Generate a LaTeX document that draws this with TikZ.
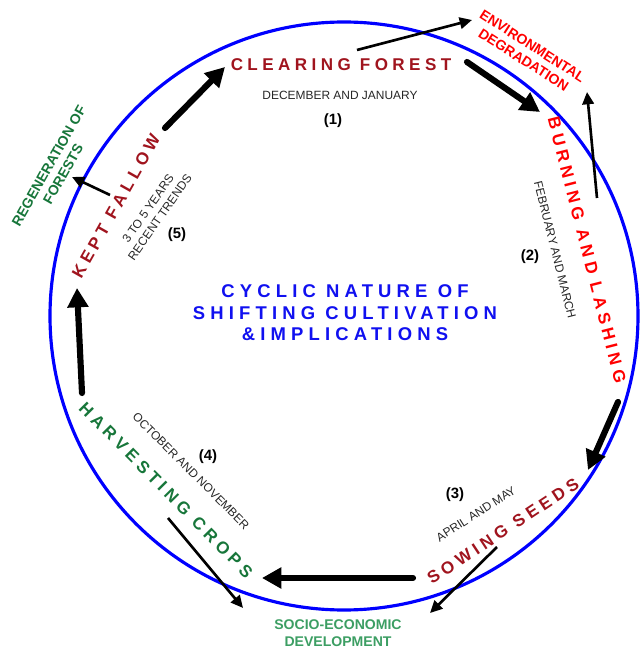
\documentclass[tikz,border=0pt]{standalone}
\usepackage{fontspec}
\setmainfont{Liberation Sans}
\newfontfamily\trackfont[LetterSpace=26]{Liberation Sans}
\newfontfamily\titlefont[LetterSpace=28]{Liberation Sans}
\usetikzlibrary{arrows.meta}
\definecolor{darkred}{HTML}{A0141E}
\definecolor{leafgreen}{HTML}{17763A}
\definecolor{palegreen}{HTML}{3C9E63}
\definecolor{titleblue}{HTML}{1010F0}
\tikzset{
  stage/.style={inner sep=0pt, font=\fontsize{9.7}{11}\trackfont\bfseries},
  month/.style={inner sep=0pt, text=black!85, align=center, font=\fontsize{6.8}{8.3}\selectfont},
  stepnum/.style={inner sep=0pt, font=\fontsize{8.5}{10}\selectfont\bfseries},
  effect/.style={inner sep=0pt, align=center, font=\fontsize{8}{9.4}\selectfont\bfseries},
  bigarrow/.style={line width=3.5pt, line cap=round, -{Triangle[length=11pt,width=11.5pt]}},
  thinarrow/.style={line width=1.5pt, -{Triangle[length=7pt,width=6.5pt]}}
}
\begin{document}
\begin{tikzpicture}[x=0.02cm,y=0.02cm]
  \useasboundingbox (0,0) rectangle (641,650);
  \draw[blue, line width=1.8pt] (344,334) circle (294);

  \node[stage, color=darkred] (clear) at (341,585) {CLEARING FOREST};
  \node[stage, color=red, rotate=-75.7] (burn) at (587,400) {BURNING AND LASHING};
  \node[stage, color=darkred, rotate=33.5] (sow) at (503,119) {SOWING SEEDS};
  \node[stage, color=leafgreen, rotate=-45.4] (harvest) at (166,160) {HARVESTING CROPS};
  \node[stage, color=darkred, rotate=60.6] (fallow) at (116,444) {KEPT FALLOW};

  \node[month] (dec) at (340,555) {DECEMBER AND JANUARY};
  \node[month, rotate=-75.9] (feb) at (555,400) {FEBRUARY AND MARCH};
  \node[month, rotate=32.6] (apr) at (476,136) {APRIL AND MAY};
  \node[month, rotate=-45] (oct) at (191,179) {OCTOBER AND NOVEMBER};
  \node[month, rotate=55] (yrs) at (154,437) {3 TO 5 YEARS\\RECENT TRENDS};

  \node[stepnum] (n1) at (333,529) {(1)};
  \node[stepnum] (n2) at (530,393) {(2)};
  \node[stepnum] (n3) at (455,155) {(3)};
  \node[stepnum] (n4) at (208,193) {(4)};
  \node[stepnum] (n5) at (177,415) {(5)};

  \node[inner sep=0pt, align=center, text=titleblue, font=\fontsize{10.5}{12.2}\titlefont\bfseries] (title) at (345,337)
    {CYCLIC NATURE OF\\SHIFTING CULTIVATION\\\&IMPLICATIONS};

  \node[effect, color=red, rotate=-32.6] (env) at (528,597) {ENVIRONMENTAL\\DEGRADATION};
  \node[effect, color=leafgreen, rotate=60.4] (regen) at (56,480) {REGENERATION OF\\FORESTS};
  \node[effect, color=palegreen] (socio) at (338,17) {SOCIO-ECONOMIC\\DEVELOPMENT};

  \coordinate (fallow-out) at (165,522);
  \coordinate (clear-in) at (225,583);
  \coordinate (clear-out) at (467,588);
  \coordinate (burn-in) at (540,538);
  \coordinate (burn-out) at (618,248);
  \coordinate (sow-in) at (588,180);
  \coordinate (sow-out) at (413,72);
  \coordinate (harvest-in) at (262,72);
  \coordinate (harvest-out) at (82,257);
  \coordinate (fallow-in) at (77,362);

  \coordinate (clear-up) at (357,600);
  \coordinate (env-a) at (472,630);
  \coordinate (burn-up) at (597,452);
  \coordinate (env-b) at (587,558);
  \coordinate (fallow-left) at (110,455);
  \coordinate (regen-in) at (72,473);
  \coordinate (sow-down) at (497,103);
  \coordinate (socio-a) at (430,37);
  \coordinate (harvest-down) at (168,132);
  \coordinate (socio-b) at (243,42);

  \draw[bigarrow] (fallow-out) -- (clear-in);
  \draw[bigarrow] (clear-out) -- (burn-in);
  \draw[bigarrow] (burn-out) -- (sow-in);
  \draw[bigarrow] (sow-out) -- (harvest-in);
  \draw[bigarrow] (harvest-out) -- (fallow-in);

  \draw[thinarrow] (clear-up) -- (env-a);
  \draw[thinarrow] (burn-up) -- (env-b);
  \draw[thinarrow] (fallow-left) -- (regen-in);
  \draw[thinarrow] (sow-down) -- (socio-a);
  \draw[thinarrow] (harvest-down) -- (socio-b);
\end{tikzpicture}
\end{document}
